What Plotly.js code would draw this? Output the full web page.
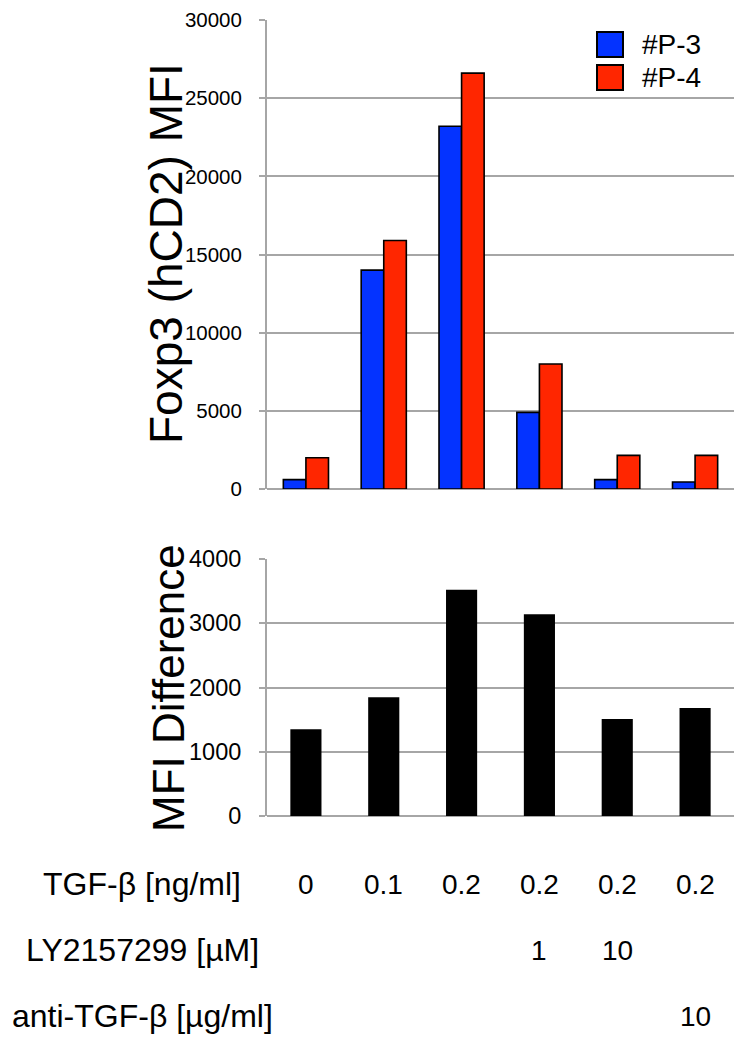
<!DOCTYPE html>
<html><head><meta charset="utf-8">
<script src="https://cdn.plot.ly/plotly-3.0.1.min.js"></script>
<style>html,body{margin:0;padding:0;background:#fff}</style>
</head><body><div id="chart" style="width:734px;height:1039px"></div>
<script>
// ---- data ----
const categories = ['g1', 'g2', 'g3', 'g4', 'g5', 'g6'];
const seriesNames = ['#P-3', '#P-4'];
const p3Values = [600, 14000, 23200, 4900, 600, 450];
const p4Values = [2000, 15900, 26600, 8000, 2150, 2150];
const mfiDifference = [1350, 1850, 3520, 3140, 1510, 1680];
const topTicks = [0, 5000, 10000, 15000, 20000, 25000, 30000];
const bottomTicks = [0, 1000, 2000, 3000, 4000];
const rowNames = ['TGF-\u03b2 [ng/ml]', 'LY2157299 [\u00b5M]', 'anti-TGF-\u03b2 [\u00b5g/ml]'];
const tgfLabels = ['0', '0.1', '0.2', '0.2', '0.2', '0.2'];
const lyLabels = ['', '', '', '1', '10', ''];
const antiLabels = ['', '', '', '', '', '10'];
const topTitle = 'Foxp3 (hCD2) MFI';
const bottomTitle = 'MFI Difference';

// ---- layout helpers ----
const W = 734, H = 1039;
const px = v => v / W;
const py = v => 1 - v / H;
const FONT = 'Liberation Sans, Arial, Helvetica, sans-serif';
const GRID = '#a6a6a6';
const BLUE = '#0433ff';
const RED = '#ff2600';

const traces = [
  {type: 'bar', x: categories, y: p3Values, name: seriesNames[0], xaxis: 'x', yaxis: 'y',
   marker: {color: BLUE, line: {color: '#000', width: 1.6}}, showlegend: false, hoverinfo: 'skip'},
  {type: 'bar', x: categories, y: p4Values, name: seriesNames[1], xaxis: 'x', yaxis: 'y',
   marker: {color: RED, line: {color: '#000', width: 1.6}}, showlegend: false, hoverinfo: 'skip'},
  {type: 'bar', x: categories, y: mfiDifference, name: bottomTitle, xaxis: 'x2', yaxis: 'y2',
   width: 0.4, marker: {color: '#000', line: {width: 0}}, showlegend: false, hoverinfo: 'skip'}
];

function yAxis(domain, range, ticks, size) {
  return {
    domain: domain, range: range, tickvals: ticks, ticktext: ticks.map(String),
    showgrid: true, gridcolor: GRID, gridwidth: 2,
    zeroline: true, zerolinecolor: GRID, zerolinewidth: 2,
    showline: true, linecolor: GRID, linewidth: 2,
    ticks: 'outside', ticklen: 6, tickwidth: 2, tickcolor: GRID,
    ticklabelstandoff: 13,
    tickfont: {family: FONT, size: size, color: '#000'},
    fixedrange: true, automargin: false
  };
}
function xAxis(domain, anchor) {
  return {
    domain: domain, anchor: anchor, type: 'category', categoryarray: categories,
    range: [-0.5, 5.5], showticklabels: false, ticks: '', showgrid: false,
    zeroline: false, showline: false, fixedrange: true
  };
}

const annotations = [];
const shapes = [];
// y-axis titles
annotations.push({xref: 'paper', yref: 'paper', x: px(166), y: py(254), xanchor: 'center', yanchor: 'middle',
  text: topTitle, textangle: -90, showarrow: false, font: {family: FONT, size: 46, color: '#000'}});
annotations.push({xref: 'paper', yref: 'paper', x: px(168), y: py(688), xanchor: 'center', yanchor: 'middle',
  text: bottomTitle, textangle: -90, showarrow: false, font: {family: FONT, size: 44, color: '#000'}});
// custom legend
const legendRows = [[32, 57], [65, 90]];
[BLUE, RED].forEach((c, i) => {
  shapes.push({type: 'rect', xref: 'paper', yref: 'paper',
    x0: px(597), x1: px(623), y0: py(legendRows[i][1]), y1: py(legendRows[i][0]),
    fillcolor: c, line: {color: '#000', width: 2}});
  annotations.push({xref: 'paper', yref: 'paper', x: px(640), y: py((legendRows[i][0] + legendRows[i][1]) / 2),
    xanchor: 'left', yanchor: 'middle', text: seriesNames[i], showarrow: false,
    font: {family: FONT, size: 28, color: '#000'}});
});
// treatment rows
const rowY = [884, 950, 1016];
const rowValues = [tgfLabels, lyLabels, antiLabels];
rowNames.forEach((name, r) => {
  annotations.push({xref: 'paper', yref: 'paper', x: px(142), y: py(rowY[r]),
    xanchor: 'center', yanchor: 'middle', text: name, showarrow: false,
    font: {family: FONT, size: 32, color: '#000'}});
  rowValues[r].forEach((v, i) => {
    if (!v) return;
    annotations.push({xref: 'x2', yref: 'paper', x: categories[i], y: py(rowY[r]),
      xanchor: 'center', yanchor: 'middle', text: v, showarrow: false,
      font: {family: FONT, size: 28, color: '#000'}});
  });
});

const layout = {
  width: W, height: H,
  margin: {l: 0, r: 0, t: 0, b: 0},
  paper_bgcolor: '#fff', plot_bgcolor: '#fff',
  barmode: 'group', bargap: 0.42, bargroupgap: 0,
  showlegend: false,
  font: {family: FONT, color: '#000'},
  xaxis: xAxis([px(267), 1], 'y'),
  yaxis: yAxis([py(489), py(20)], [0, 30000], topTicks, 20.5),
  xaxis2: xAxis([px(267), 1], 'y2'),
  yaxis2: yAxis([py(816), py(559)], [0, 4000], bottomTicks, 23.5),
  shapes: shapes,
  annotations: annotations
};

Plotly.newPlot('chart', traces, layout, {displayModeBar: false, staticPlot: true});
</script></body></html>
